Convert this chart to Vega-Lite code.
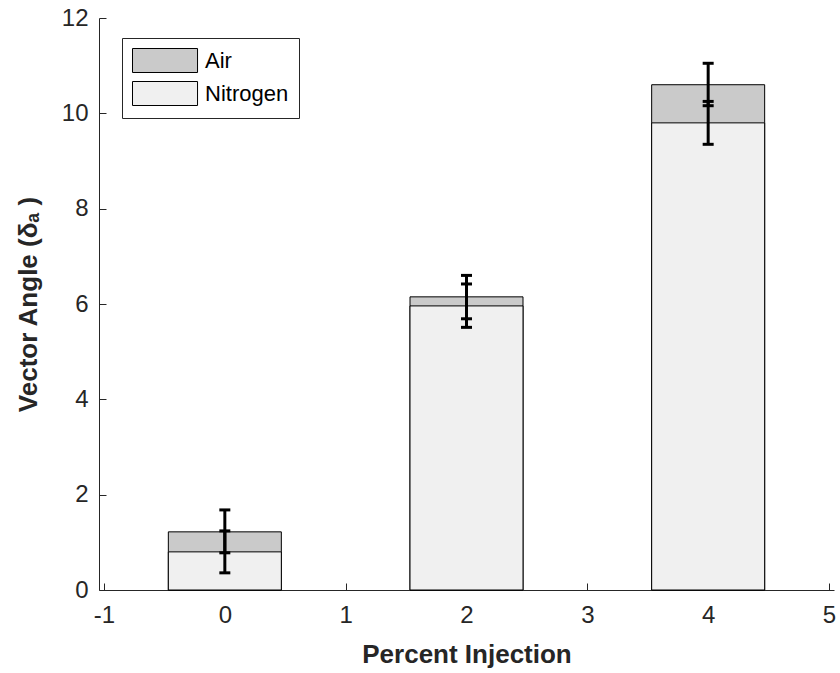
{
  "$schema": "https://vega.github.io/schema/vega-lite/v6.json",
  "width": 735,
  "height": 572,
  "autosize": "none",
  "padding": {"left": 99, "top": 18, "right": 6, "bottom": 83},
  "background": "white",
  "config": {
    "view": {"stroke": null},
    "font": "Liberation Sans",
    "axis": {
      "domainColor": "#262626",
      "domainWidth": 1,
      "tickColor": "#262626",
      "tickSize": -7,
      "tickWidth": 1,
      "grid": false,
      "labelFont": "Liberation Sans",
      "labelFontSize": 24,
      "labelColor": "#262626",
      "titleFont": "Liberation Sans",
      "titleFontSize": 26,
      "titleFontWeight": "bold",
      "titleColor": "#262626"
    }
  },
  "data": {
    "values": [
      {"x": 0, "series": "Air", "value": 1.22, "lo": 0.78, "hi": 1.68},
      {"x": 2, "series": "Air", "value": 6.15, "lo": 5.69, "hi": 6.6},
      {"x": 4, "series": "Air", "value": 10.6, "lo": 10.16, "hi": 11.05},
      {"x": 0, "series": "Nitrogen", "value": 0.8, "lo": 0.36, "hi": 1.24},
      {"x": 2, "series": "Nitrogen", "value": 5.96, "lo": 5.51, "hi": 6.42},
      {"x": 4, "series": "Nitrogen", "value": 9.8, "lo": 9.35, "hi": 10.25}
    ]
  },
  "layer": [
    {
      "mark": {"type": "bar", "width": 113, "stroke": "black", "strokeWidth": 1, "opacity": 1},
      "encoding": {
        "x": {
          "field": "x",
          "type": "quantitative",
          "scale": {"domain": [-1, 5], "nice": false, "zero": false},
          "axis": {
            "values": [-1, 0, 1, 2, 3, 4, 5],
            "labelExpr": "'' + datum.value",
            "title": "Percent Injection",
            "labelPadding": 20,
            "titlePadding": 14,
            "labelFlush": false,
            "labelOverlap": false
          }
        },
        "y": {
          "field": "value",
          "type": "quantitative",
          "stack": null,
          "scale": {"domain": [0, 12], "nice": false},
          "axis": {
            "values": [0, 2, 4, 6, 8, 10, 12],
            "labelExpr": "'' + datum.value",
            "title": "Vector Angle (δₐ )",
            "labelPadding": 18,
            "titlePadding": 20,
            "labelFlush": false
          }
        },
        "color": {
          "field": "series",
          "type": "nominal",
          "scale": {"domain": ["Air", "Nitrogen"], "range": ["#cacaca", "#f0f0f0"]},
          "legend": {
            "orient": "none",
            "legendX": 23,
            "legendY": 20,
            "title": null,
            "symbolType": "M-1,-1H4.42V1H-1Z",
            "symbolSize": 576,
            "symbolStrokeColor": "black",
            "symbolStrokeWidth": 1,
            "symbolOpacity": 1,
            "labelFont": "Liberation Sans",
            "labelFontSize": 22,
            "labelColor": "black",
            "labelOffset": 48,
            "rowPadding": 4,
            "padding": 10,
            "strokeColor": "#262626",
            "fillColor": "white"
          }
        }
      }
    },
    {
      "mark": {"type": "rule", "strokeWidth": 3, "color": "black"},
      "encoding": {
        "x": {"field": "x", "type": "quantitative"},
        "y": {"field": "lo", "type": "quantitative"},
        "y2": {"field": "hi"}
      }
    },
    {
      "mark": {"type": "tick", "orient": "horizontal", "size": 11, "thickness": 3, "color": "black", "opacity": 1},
      "encoding": {
        "x": {"field": "x", "type": "quantitative"},
        "y": {"field": "lo", "type": "quantitative"}
      }
    },
    {
      "mark": {"type": "tick", "orient": "horizontal", "size": 11, "thickness": 3, "color": "black", "opacity": 1},
      "encoding": {
        "x": {"field": "x", "type": "quantitative"},
        "y": {"field": "hi", "type": "quantitative"}
      }
    }
  ]
}
